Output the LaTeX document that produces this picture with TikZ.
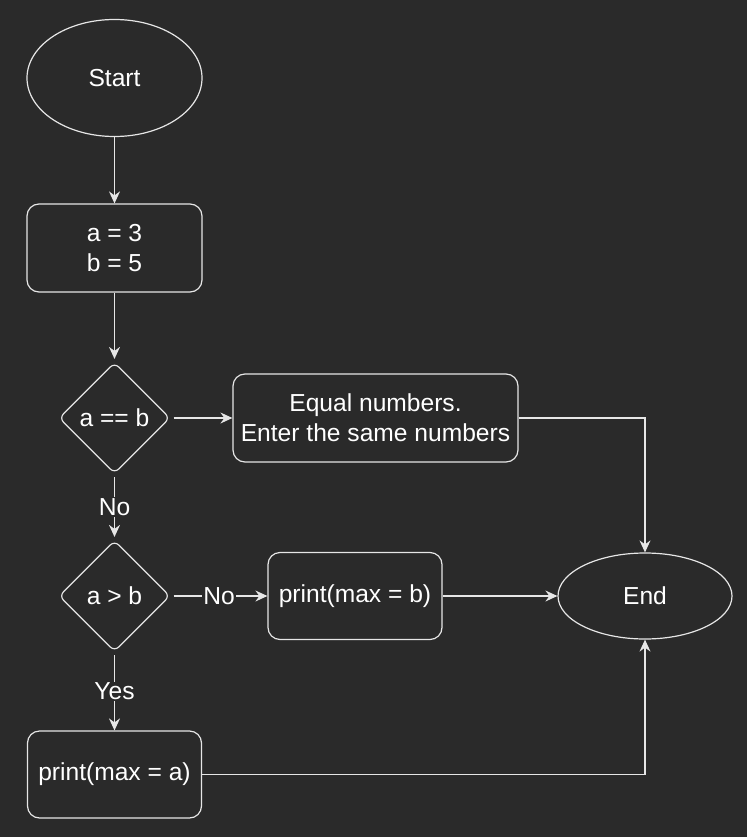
\documentclass[tikz,border=0pt]{standalone}
\usepackage{fontspec}
\setmainfont{Liberation Sans}
\usetikzlibrary{shapes.geometric,arrows.meta}
\definecolor{bg}{HTML}{2A2A2A}
\definecolor{ln}{HTML}{E6E6E6}
\begin{document}
\begin{tikzpicture}[x=1pt,y=-1pt,
  every node/.style={font=\fontsize{24.6}{30}\selectfont, text=white, align=center},
  shp/.style={draw=ln, line width=1.2pt},
  term/.style={shp, ellipse, inner sep=0pt},
  proc/.style={shp, rectangle, rounded corners=12pt, inner sep=0pt},
  dec/.style={shp, diamond, aspect=1, inner sep=0pt, rounded corners=6pt, minimum width=111pt, minimum height=111pt},
  conn/.style={draw=ln, line width=1.2pt, -{Stealth[length=12pt,width=11pt,inset=4pt]}},
  lbl/.style={fill=bg, inner sep=1pt}
]
\fill[bg] (0,0) rectangle (747,837);
\useasboundingbox (0,0) rectangle (747,837);

\node[term, minimum width=175pt, minimum height=117pt] (start) at (114.5,78) {Start};
\node[proc, minimum width=175pt, minimum height=88pt] (init) at (114.5,248) {a = 3\\b = 5};
\node[dec] (d1) at (114.5,418) {a == b};
\node[proc, minimum width=285pt, minimum height=88pt] (eq) at (375.5,418) {Equal numbers.\\Enter the same numbers};
\node[dec] (d2) at (114.5,596) {a > b};
\node[proc, minimum width=174pt, minimum height=87pt] (pb) at (355,596) {print(max = b)};
\node[term, minimum width=174pt, minimum height=86pt] (end) at (645,596) {End};
\node[proc, minimum width=174pt, minimum height=87pt] (pa) at (114.5,774.5) {print(max = a)};

\draw[conn] (start.south) -- (init.north);
\draw[conn, shorten >=3pt] (init.south) -- (d1.north);
\draw[conn, shorten <=3pt] (d1.east) -- (eq.west);
\draw[conn] (eq.east) -| (end.north);
\draw[conn, shorten <=3pt, shorten >=3pt] (d1.south) -- node[lbl] {No} (d2.north);
\draw[conn, shorten <=3pt] (d2.east) -- node[lbl] {No} (pb.west);
\draw[conn] (pb.east) -- (end.west);
\draw[conn, shorten <=3pt] (d2.south) -- node[lbl] {Yes} (pa.north);
\draw[conn] (pa.east) -| (end.south);
\end{tikzpicture}
\end{document}
